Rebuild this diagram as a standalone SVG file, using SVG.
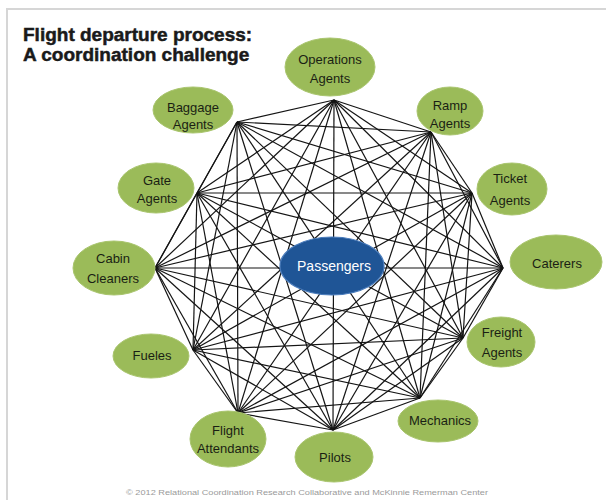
<svg xmlns="http://www.w3.org/2000/svg" width="606" height="500" viewBox="0 0 606 500">
<style>
.frame{fill:none;stroke:#d6d6d6;stroke-width:2}
.title{font-family:"Liberation Sans",Arial,sans-serif;font-weight:bold;font-size:19px;fill:#1a1a1a;stroke:#1a1a1a;stroke-width:0.5}
.lnk line{stroke:#141414;stroke-width:1.2}
.g ellipse{fill:#9bbb59;stroke:#a9c56e;stroke-width:1}
.g text{font-family:"Liberation Sans",Arial,sans-serif;font-size:13px;fill:#1a1f14;text-anchor:middle}
.p ellipse{fill:#1f5596;stroke:#4a7cbc;stroke-width:1.2}
.p text{font-family:"Liberation Sans",Arial,sans-serif;font-size:14px;fill:#ffffff;text-anchor:middle}
.foot{font-family:"Liberation Sans",Arial,sans-serif;font-size:7.5px;fill:#9a9a9a}
</style>
<rect width="606" height="500" fill="#ffffff"/>
<path class="frame" d="M606,9 H7 V500"/>
<text class="title" x="23" y="41">Flight departure process:</text>
<text class="title" x="23" y="61">A coordination challenge</text>
<g id="connectors" class="lnk">
<line x1="334" y1="100" x2="431" y2="132"/>
<line x1="334" y1="100" x2="472" y2="193"/>
<line x1="334" y1="100" x2="503" y2="268"/>
<line x1="334" y1="100" x2="463" y2="338"/>
<line x1="334" y1="100" x2="420" y2="398"/>
<line x1="334" y1="100" x2="333" y2="430"/>
<line x1="334" y1="100" x2="238" y2="413"/>
<line x1="334" y1="100" x2="193" y2="350"/>
<line x1="334" y1="100" x2="155" y2="268"/>
<line x1="334" y1="100" x2="197" y2="193"/>
<line x1="334" y1="100" x2="237" y2="122"/>
<line x1="431" y1="132" x2="472" y2="193"/>
<line x1="431" y1="132" x2="503" y2="268"/>
<line x1="431" y1="132" x2="463" y2="338"/>
<line x1="431" y1="132" x2="420" y2="398"/>
<line x1="431" y1="132" x2="333" y2="430"/>
<line x1="431" y1="132" x2="238" y2="413"/>
<line x1="431" y1="132" x2="193" y2="350"/>
<line x1="431" y1="132" x2="155" y2="268"/>
<line x1="431" y1="132" x2="197" y2="193"/>
<line x1="431" y1="132" x2="237" y2="122"/>
<line x1="472" y1="193" x2="503" y2="268"/>
<line x1="472" y1="193" x2="463" y2="338"/>
<line x1="472" y1="193" x2="420" y2="398"/>
<line x1="472" y1="193" x2="333" y2="430"/>
<line x1="472" y1="193" x2="238" y2="413"/>
<line x1="472" y1="193" x2="193" y2="350"/>
<line x1="472" y1="193" x2="155" y2="268"/>
<line x1="472" y1="193" x2="197" y2="193"/>
<line x1="472" y1="193" x2="237" y2="122"/>
<line x1="503" y1="268" x2="463" y2="338"/>
<line x1="503" y1="268" x2="420" y2="398"/>
<line x1="503" y1="268" x2="333" y2="430"/>
<line x1="503" y1="268" x2="238" y2="413"/>
<line x1="503" y1="268" x2="193" y2="350"/>
<line x1="503" y1="268" x2="155" y2="268"/>
<line x1="503" y1="268" x2="197" y2="193"/>
<line x1="503" y1="268" x2="237" y2="122"/>
<line x1="463" y1="338" x2="420" y2="398"/>
<line x1="463" y1="338" x2="333" y2="430"/>
<line x1="463" y1="338" x2="238" y2="413"/>
<line x1="463" y1="338" x2="193" y2="350"/>
<line x1="463" y1="338" x2="155" y2="268"/>
<line x1="463" y1="338" x2="197" y2="193"/>
<line x1="463" y1="338" x2="237" y2="122"/>
<line x1="420" y1="398" x2="333" y2="430"/>
<line x1="420" y1="398" x2="238" y2="413"/>
<line x1="420" y1="398" x2="193" y2="350"/>
<line x1="420" y1="398" x2="155" y2="268"/>
<line x1="420" y1="398" x2="197" y2="193"/>
<line x1="420" y1="398" x2="237" y2="122"/>
<line x1="333" y1="430" x2="238" y2="413"/>
<line x1="333" y1="430" x2="193" y2="350"/>
<line x1="333" y1="430" x2="155" y2="268"/>
<line x1="333" y1="430" x2="197" y2="193"/>
<line x1="333" y1="430" x2="237" y2="122"/>
<line x1="238" y1="413" x2="193" y2="350"/>
<line x1="238" y1="413" x2="155" y2="268"/>
<line x1="238" y1="413" x2="197" y2="193"/>
<line x1="238" y1="413" x2="237" y2="122"/>
<line x1="193" y1="350" x2="155" y2="268"/>
<line x1="193" y1="350" x2="197" y2="193"/>
<line x1="193" y1="350" x2="237" y2="122"/>
<line x1="155" y1="268" x2="197" y2="193"/>
<line x1="155" y1="268" x2="237" y2="122"/>
<line x1="197" y1="193" x2="237" y2="122"/>
</g>
<g id="operations-agents" class="g"><ellipse cx="330" cy="67" rx="45" ry="29"/><text x="330" y="64">Operations</text><text x="330" y="83">Agents</text></g>
<g id="baggage-agents" class="g"><ellipse cx="193" cy="110" rx="40" ry="23"/><text x="193" y="112">Baggage</text><text x="193" y="129">Agents</text></g>
<g id="ramp-agents" class="g"><ellipse cx="450" cy="111" rx="33" ry="24"/><text x="450" y="110">Ramp</text><text x="450" y="128">Agents</text></g>
<g id="gate-agents" class="g"><ellipse cx="156" cy="188" rx="38" ry="25"/><text x="157" y="185">Gate</text><text x="157" y="203">Agents</text></g>
<g id="cabin-cleaners" class="g"><ellipse cx="114" cy="268" rx="41" ry="27"/><text x="113" y="263">Cabin</text><text x="113" y="283">Cleaners</text></g>
<g id="fueles" class="g"><ellipse cx="151" cy="356" rx="38" ry="22"/><text x="152" y="360">Fueles</text></g>
<g id="ticket-agents" class="g"><ellipse cx="512" cy="189" rx="35" ry="26"/><text x="510" y="183">Ticket</text><text x="510" y="205">Agents</text></g>
<g id="caterers" class="g"><ellipse cx="556" cy="262" rx="46" ry="27"/><text x="557" y="268">Caterers</text></g>
<g id="freight-agents" class="g"><ellipse cx="501" cy="342" rx="34" ry="25"/><text x="502" y="337">Freight</text><text x="502" y="357">Agents</text></g>
<g id="mechanics" class="g"><ellipse cx="438" cy="421" rx="40" ry="21"/><text x="440" y="425">Mechanics</text></g>
<g id="pilots" class="g"><ellipse cx="334" cy="457" rx="39" ry="25"/><text x="335" y="462">Pilots</text></g>
<g id="flight-attendants" class="g"><ellipse cx="228" cy="439" rx="38" ry="28"/><text x="228" y="435">Flight</text><text x="228" y="453">Attendants</text></g>
<g id="passengers" class="p"><ellipse cx="332" cy="266" rx="52" ry="29"/><text x="334" y="271">Passengers</text></g>
<text class="foot" x="126" y="495" textLength="362" lengthAdjust="spacingAndGlyphs">© 2012 Relational Coordination Research Collaborative and McKinnie Remerman Center</text>
</svg>
